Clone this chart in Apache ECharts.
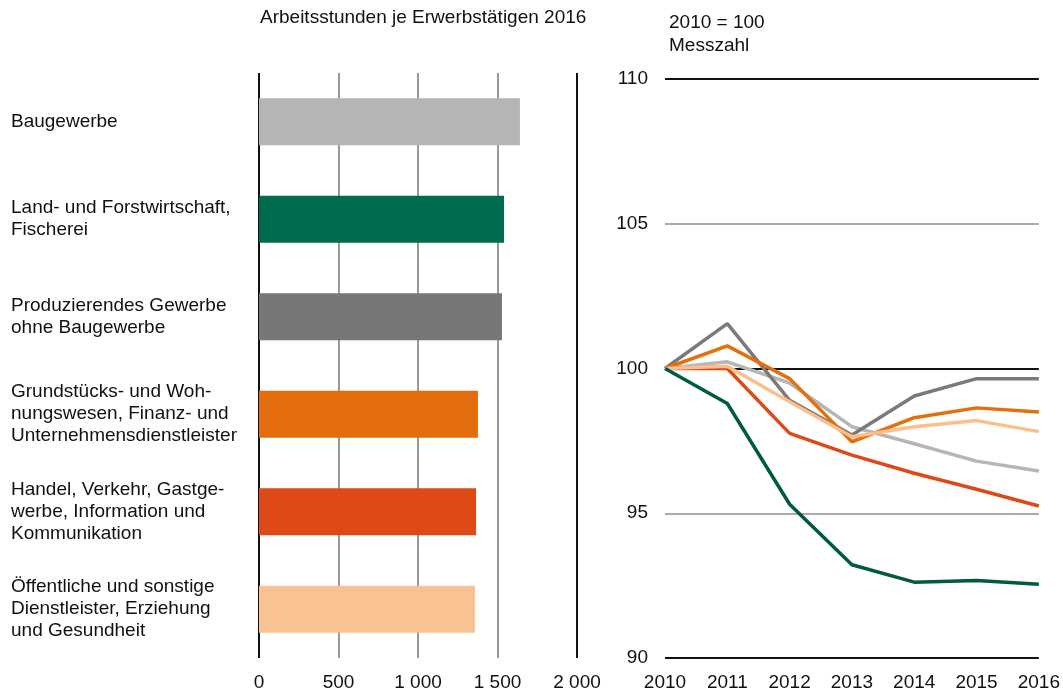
<!DOCTYPE html>
<html>
<head>
<meta charset="utf-8">
<script src="https://cdn.jsdelivr.net/npm/echarts@6/dist/echarts.min.js"></script>
<style>
  html, body { margin: 0; padding: 0; background: #fff; }
  #chart { width: 1063px; height: 693px; }
</style>
</head>
<body>
<div id="chart"></div>
<script>
var categories = [
  'Baugewerbe',
  'Land- und Forstwirtschaft,\nFischerei',
  'Produzierendes Gewerbe\nohne Baugewerbe',
  'Grundstücks- und Woh-\nnungswesen, Finanz- und\nUnternehmensdienstleister',
  'Handel, Verkehr, Gastge-\nwerbe, Information und\nKommunikation',
  'Öffentliche und sonstige\nDienstleister, Erziehung\nund Gesundheit'
];
var hours2016 = [1641, 1541, 1528, 1377, 1365, 1358];
var barColors = ['#b4b5b7', '#006c4f', '#767779', '#e36d0c', '#dd4a17', '#f9c292'];

var years = ['2010', '2011', '2012', '2013', '2014', '2015', '2016'];
var bau      = [100, 100.23, 99.5, 97.99, 97.4, 96.8, 96.46];
var land     = [100, 98.79, 95.31, 93.22, 92.62, 92.68, 92.55];
var prod     = [100, 101.55, 98.9, 97.7, 99.05, 99.65, 99.65];
var grund    = [100, 100.78, 99.65, 97.47, 98.3, 98.64, 98.5];
var handel   = [100, 100, 97.76, 97.01, 96.38, 95.83, 95.25];
var oeff     = [100, 100.08, 98.85, 97.64, 97.99, 98.2, 97.82];

var font = 'Liberation Sans, Arial, sans-serif';
var fs = 19;

function lineSeries(name, data, color) {
  return {
    name: name,
    type: 'line',
    xAxisIndex: 1,
    yAxisIndex: 1,
    data: data,
    symbol: 'none',
    lineStyle: { width: 3.5, color: color },
    itemStyle: { color: color }
  };
}

var chart = echarts.init(document.getElementById('chart'));
var option = {
  animation: false,
  textStyle: { fontFamily: font },
  title: [
    { text: 'Arbeitsstunden je Erwerbstätigen 2016', left: 255, top: 3,
      textStyle: { fontSize: fs, fontWeight: 'normal', color: '#111', fontFamily: font } },
    { text: '2010 = 100\nMesszahl', left: 664, top: 6,
      textStyle: { fontSize: fs, fontWeight: 'normal', color: '#111', lineHeight: 23, fontFamily: font } }
  ],
  grid: [
    { left: 259, right: 486, top: 73, bottom: 35 },
    { left: 665, right: 23, top: 79, bottom: 35 }
  ],
  xAxis: [
    {
      gridIndex: 0, type: 'value', min: 0, max: 2000, interval: 500,
      axisLine: { show: false }, axisTick: { show: false },
      splitLine: { show: true, lineStyle: { width: 2, color: ['#111', '#999', '#999', '#999', '#111'] } },
      axisLabel: {
        margin: 15, fontSize: fs, color: '#111',
        formatter: function (v) { return v >= 1000 ? String(v).replace(/(\d)(\d{3})$/, '$1 $2') : String(v); }
      }
    },
    {
      gridIndex: 1, type: 'category', data: years, boundaryGap: false,
      axisLine: { show: false }, axisTick: { show: false },
      axisLabel: { margin: 15, fontSize: fs, color: '#111' }
    }
  ],
  yAxis: [
    {
      gridIndex: 0, type: 'category', data: categories, inverse: true,
      axisLine: { show: false }, axisTick: { show: false }, splitLine: { show: false },
      axisLabel: { align: 'left', margin: 248, fontSize: fs, lineHeight: 22, color: '#111', padding: [8, 0, 0, 0] }
    },
    {
      gridIndex: 1, type: 'value', min: 90, max: 110, interval: 5,
      axisLine: { show: false }, axisTick: { show: false },
      splitLine: { show: true, lineStyle: { width: 2, color: ['#111', '#aaa', '#111', '#aaa', '#111'] } },
      axisLabel: { margin: 17, fontSize: fs, color: '#111' }
    }
  ],
  series: [
    {
      type: 'bar', xAxisIndex: 0, yAxisIndex: 0,
      data: hours2016, barWidth: 47,
      colorBy: 'data', color: barColors
    },
    lineSeries('Baugewerbe', bau, '#b5b6b7'),
    lineSeries('Produzierendes Gewerbe', prod, '#7a7a7b'),
    lineSeries('Handel', handel, '#dd4a17'),
    lineSeries('Grundstücks', grund, '#e3700a'),
    lineSeries('Öffentliche', oeff, '#fbbf8c'),
    lineSeries('Land', land, '#005a3f')
  ]
};
chart.setOption(option);
</script>
</body>
</html>
